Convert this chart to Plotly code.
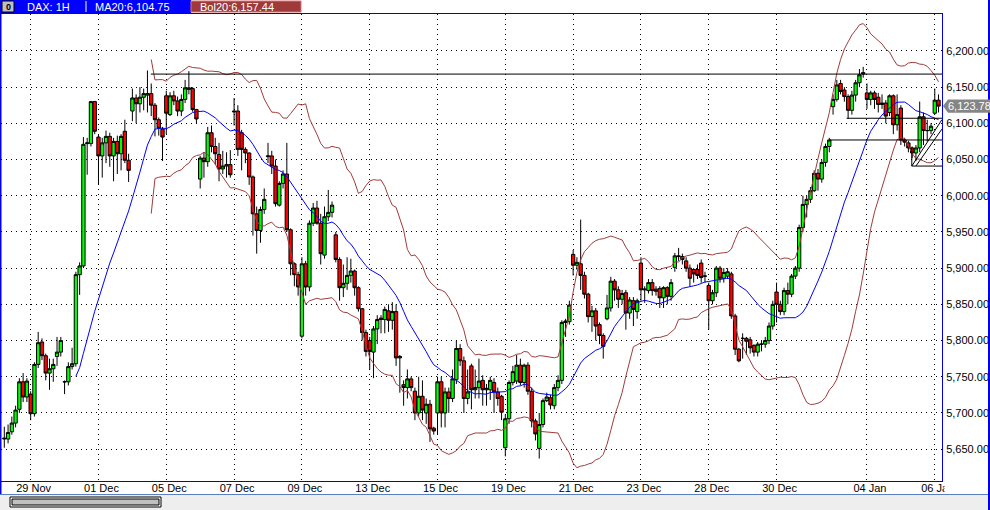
import numpy as np
import pandas as pd
import plotly.graph_objects as go

# ---------------- data (hourly DAX bars) ----------------
opens = [5664,5664,5674,5686,5705,5743,5722,5726,5699,5767,
         5798,5779,5755,5761,5778,5784,5743,5743,5764,5768,
         5891,5903,6072,6072,6130,6081,6055,6073,6082,6055,
         6075,6058,6089,6049,6117,6135,6127,6136,6139,6141,
         6125,6105,6092,6138,6112,6138,6131,6117,6133,6149,
         6148,6119,6023,6052,6047,6087,6068,6057,6037,6041,
         6043,6117,6117,6087,6064,6059,6026,5975,5952,5981,
         6054,6055,6041,5987,6017,6030,5953,5906,5891,5806,
         5906,5874,5962,5983,5962,5918,5971,5977,5946,5912,
         5873,5879,5890,5896,5873,5844,5811,5800,5784,5816,
         5831,5829,5841,5828,5840,5776,5739,5735,5747,5730,
         5700,5723,5700,5712,5679,5700,5743,5700,5729,5720,
         5746,5789,5772,5720,5765,5732,5735,5745,5732,5732,
         5742,5729,5723,5652,5692,5742,5744,5766,5742,5766,
         5730,5689,5651,5684,5717,5721,5710,5735,5745,5825,
         5826,5919,5904,5906,5890,5864,5833,5841,5822,5807,
         5830,5845,5882,5870,5857,5866,5838,5855,5840,5907,
         5870,5869,5880,5871,5872,5859,5873,5861,5901,5917,
         5916,5910,5900,5898,5898,5907,5889,5876,5855,5866,
         5900,5886,5889,5892,5834,5788,5803,5803,5801,5793,
         5784,5795,5795,5800,5820,5867,5850,5840,5869,5864,
         5889,5900,5956,5988,5995,6007,6031,6023,6046,6068,
         6123,6133,6155,6146,6137,6118,6139,6156,6168,6142,
         6133,6142,6136,6126,6128,6115,6138,6098,6121,6077,
         6073,6066,6059,6066,6109,6090,6090,6114,6132]
highs = [5681,5684,5695,5710,5748,5755,5748,5730,5770,5812,
         5803,5782,5775,5775,5805,5805,5745,5770,5790,5895,
         5908,6081,6080,6131,6131,6085,6080,6090,6087,6080,
         6083,6085,6105,6058,6148,6140,6150,6148,6173,6155,
         6128,6108,6095,6145,6143,6145,6137,6140,6160,6172,
         6150,6120,6055,6060,6095,6097,6080,6073,6062,6060,
         6063,6135,6125,6091,6067,6060,6028,5985,5985,6010,
         6073,6062,6050,6020,6035,6073,5955,5908,5895,5915,
         5910,5966,5990,5993,5975,5985,6008,5992,5950,5915,
         5905,5915,5913,5898,5875,5845,5815,5805,5820,5835,
         5835,5847,5850,5853,5850,5780,5745,5760,5750,5735,
         5750,5745,5720,5718,5681,5750,5750,5735,5735,5760,
         5800,5795,5778,5760,5768,5760,5775,5752,5740,5750,
         5748,5735,5725,5698,5745,5765,5780,5775,5768,5770,
         5735,5692,5700,5720,5728,5725,5740,5752,5828,5830,
         5855,5925,5915,5967,5895,5866,5848,5845,5825,5810,
         5863,5888,5885,5875,5870,5870,5860,5860,5858,5915,
         5875,5885,5885,5875,5875,5875,5875,5885,5921,5928,
         5920,5915,5905,5900,5905,5912,5895,5880,5870,5903,
         5903,5900,5900,5895,5837,5790,5810,5805,5805,5795,
         5798,5800,5805,5825,5855,5880,5855,5873,5880,5892,
         5903,5960,6000,6000,6012,6035,6037,6050,6072,6080,
         6140,6160,6160,6150,6140,6145,6160,6175,6178,6155,
         6145,6145,6142,6140,6132,6140,6140,6140,6125,6080,
         6076,6068,6070,6130,6115,6105,6100,6148,6140]
lows = [5652,5658,5670,5680,5700,5715,5715,5690,5695,5762,
        5773,5745,5732,5743,5765,5778,5726,5738,5760,5764,
        5863,5900,6029,6068,6085,6016,6025,6045,6040,6020,
        6030,6035,6045,6019,6103,6100,6115,6118,6115,6110,
        6082,6083,6048,6085,6110,6125,6110,6110,6128,6140,
        6116,6100,6010,6025,6040,6060,6043,6020,6030,6025,
        6025,6097,6055,6035,6045,6015,5945,5920,5935,5975,
        6045,6030,5985,5985,6010,5950,5890,5875,5862,5803,
        5862,5868,5958,5960,5905,5913,5965,5970,5908,5855,
        5860,5870,5880,5862,5840,5800,5778,5760,5748,5795,
        5810,5810,5812,5815,5765,5728,5710,5720,5730,5690,
        5695,5690,5685,5660,5670,5670,5680,5680,5700,5715,
        5740,5765,5700,5712,5705,5720,5720,5710,5710,5718,
        5700,5710,5690,5640,5685,5738,5740,5738,5735,5725,
        5680,5662,5637,5680,5715,5705,5705,5730,5740,5805,
        5822,5890,5898,5870,5858,5825,5812,5800,5795,5775,
        5828,5840,5855,5845,5850,5815,5830,5820,5830,5855,
        5852,5865,5862,5862,5845,5845,5850,5855,5895,5910,
        5905,5895,5875,5880,5885,5880,5880,5815,5850,5860,
        5880,5880,5885,5830,5780,5770,5775,5780,5782,5778,
        5778,5785,5790,5795,5815,5825,5835,5835,5850,5860,
        5885,5895,5950,5970,5990,6005,6007,6018,6040,6060,
        6112,6130,6140,6130,6106,6112,6130,6150,6163,6120,
        6125,6120,6115,6120,6100,6110,6085,6090,6070,6068,
        6060,6052,6048,6060,6070,6075,6085,6112,6115]
closes = [5665,5673,5686,5704,5743,5722,5744,5699,5767,5797,
          5779,5755,5761,5767,5784,5800,5743,5764,5768,5891,
          5903,6071,6073,6130,6089,6055,6073,6082,6055,6075,
          6058,6082,6049,6035,6135,6127,6136,6141,6141,6125,
          6105,6093,6081,6114,6138,6131,6117,6133,6149,6147,
          6119,6106,6052,6047,6087,6068,6058,6037,6041,6043,
          6029,6116,6064,6064,6059,6026,5975,5952,5981,5995,
          6055,6041,5989,6017,6030,5953,5906,5891,5874,5906,
          5874,5962,5983,5962,5920,5971,5977,5987,5912,5873,
          5879,5890,5896,5873,5844,5811,5785,5785,5816,5829,
          5829,5843,5828,5840,5776,5778,5735,5747,5735,5700,
          5723,5704,5712,5678,5675,5743,5700,5729,5720,5747,
          5789,5772,5720,5729,5732,5735,5744,5732,5734,5745,
          5729,5720,5701,5692,5742,5757,5766,5742,5766,5730,
          5689,5671,5684,5717,5722,5711,5735,5745,5825,5827,
          5849,5904,5908,5890,5864,5833,5841,5820,5807,5792,
          5845,5882,5870,5857,5865,5838,5856,5843,5855,5870,
          5871,5880,5869,5868,5859,5873,5861,5880,5917,5916,
          5912,5900,5886,5892,5890,5887,5889,5855,5866,5900,
          5886,5894,5895,5834,5788,5772,5803,5799,5790,5784,
          5795,5795,5800,5820,5850,5850,5840,5869,5864,5889,
          5900,5956,5988,5995,6007,6031,6023,6046,6068,6077,
          6133,6153,6144,6137,6118,6139,6156,6167,6170,6133,
          6142,6133,6126,6128,6110,6138,6098,6112,6077,6074,
          6066,6059,6066,6109,6090,6090,6096,6132,6123.78]

tick_bars = [7, 25, 43, 61, 79, 97, 115, 133, 151, 169, 187, 205, 229, 247]
tick_labels = ["29 Nov", "01 Dec", "05 Dec", "07 Dec", "09 Dec", "13 Dec", "15 Dec",
               "19 Dec", "21 Dec", "23 Dec", "28 Dec", "30 Dec", "04 Jan", "06 Jan"]
price_ticks = [5650, 5700, 5750, 5800, 5850, 5900, 5950, 6000, 6050, 6100, 6150, 6200]

# user-drawn lines: (start bar, price) extended to the right edge
hline_starts = [38.9, 223.6, 219.0, 240.9]
hline_prices = [6168, 6107, 6077, 6041]
tri_bars = [240.9, 248.9]
tri_prices = [6041, 6105]
tri2_bars = [242.0, 248.9]
tri2_prices = [6041, 6092]
tri_top = 6067

header_symbol = "DAX: 1H"
header_ma = "MA20:6,104.75"
header_bol = "Bol20:6,157.44"
last_price = closes[-1]

# ---------------- indicators ----------------
bars = list(range(len(closes)))
cs = pd.Series(closes, dtype=float)
ma = cs.rolling(20).mean()
sd = cs.rolling(20).std(ddof=0)
upper = ma + 2 * sd
lower = ma - 2 * sd
upper[:39] = np.nan
lower[:39] = np.nan

# ---------------- geometry ----------------
W, H = 990, 510
ML, MR, MT, MB = 1, 48, 14, 29
PW, PH = W - ML - MR, H - MT - MB
XR = [-0.876, 248.92]
YR = [5606, 6251]


def px(x):
    return (x - ML) / PW


def py(y):
    return 1 - (y - MT) / PH


BLUE = "#0000EE"
BROWN = "#A03C3C"

fig = go.Figure()
fig.add_trace(go.Candlestick(
    x=bars, open=opens, high=highs, low=lows, close=closes,
    increasing=dict(fillcolor="#00FF00", line=dict(color="black", width=1)),
    decreasing=dict(fillcolor="#FF0000", line=dict(color="black", width=1)),
    whiskerwidth=0, showlegend=False, hoverinfo="skip"))
fig.add_trace(go.Scatter(x=bars, y=upper, mode="lines", line=dict(color=BROWN, width=1),
                         showlegend=False, hoverinfo="skip"))
fig.add_trace(go.Scatter(x=bars, y=lower, mode="lines", line=dict(color=BROWN, width=1),
                         showlegend=False, hoverinfo="skip"))
fig.add_trace(go.Scatter(x=bars, y=ma, mode="lines", line=dict(color="#0000FF", width=1),
                         showlegend=False, hoverinfo="skip"))

shapes = []
# drawn trend lines
for xs, p in zip(hline_starts, hline_prices):
    shapes.append(dict(type="line", xref="x", yref="y", x0=xs, x1=XR[1], y0=p, y1=p,
                       line=dict(color="black", width=1), layer="above"))
shapes.append(dict(type="line", xref="x", yref="y", x0=tri_bars[0], x1=tri_bars[0],
                   y0=tri_prices[0], y1=tri_top, line=dict(color="black", width=1)))
shapes.append(dict(type="line", xref="x", yref="y", x0=tri_bars[0], x1=tri_bars[1],
                   y0=tri_prices[0], y1=tri_prices[1], line=dict(color="black", width=1)))
shapes.append(dict(type="line", xref="x", yref="y", x0=tri2_bars[0], x1=tri2_bars[1],
                   y0=tri2_prices[0], y1=tri2_prices[1], line=dict(color="black", width=1)))

# header bar
shapes.append(dict(type="rect", xref="paper", yref="paper", x0=px(0), x1=px(191), y0=py(0), y1=py(13),
                   fillcolor="#0000FF", line=dict(width=0), layer="above"))
shapes.append(dict(type="rect", xref="paper", yref="paper", x0=px(2), x1=px(14), y0=py(1), y1=py(12),
                   fillcolor="#C0C0C0", line=dict(color="black", width=1), layer="above"))
shapes.append(dict(type="line", xref="paper", yref="paper", x0=px(86), x1=px(86), y0=py(1), y1=py(12),
                   line=dict(color="white", width=1), layer="above"))
shapes.append(dict(type="rect", xref="paper", yref="paper", x0=px(191), x1=px(301), y0=py(1), y1=py(12),
                   fillcolor="#9E3A3A", line=dict(color="#E07070", width=1), layer="above"))

# mask for clipped last date label, frame lines, scroll bar
shapes.append(dict(type="rect", xref="paper", yref="paper", x0=px(944.5), x1=px(988), y0=py(482), y1=py(494),
                   fillcolor="white", line=dict(width=0), layer="above"))
shapes.append(dict(type="rect", xref="paper", yref="paper", x0=px(0), x1=px(990), y0=py(494), y1=py(510),
                   fillcolor="#EEEEEE", line=dict(width=0), layer="above"))
shapes.append(dict(type="line", xref="paper", yref="paper", x0=px(0), x1=px(990), y0=py(494.5), y1=py(494.5),
                   line=dict(color="#5A7EC0", width=1), layer="above"))
shapes.append(dict(type="rect", xref="paper", yref="paper", x0=px(10), x1=px(161), y0=py(497), y1=py(507),
                   fillcolor="white", line=dict(color="black", width=1), layer="above"))
shapes.append(dict(type="rect", xref="paper", yref="paper", x0=px(12), x1=px(159), y0=py(499), y1=py(505),
                   fillcolor="#C0C0C0", line=dict(color="black", width=1), layer="above"))
shapes.append(dict(type="line", xref="paper", yref="paper", x0=px(0.5), x1=px(0.5), y0=py(0), y1=py(494),
                   line=dict(color=BLUE, width=2), layer="above"))
shapes.append(dict(type="line", xref="paper", yref="paper", x0=px(989), x1=px(989), y0=py(0), y1=py(510),
                   line=dict(color=BLUE, width=2), layer="above"))

# last price tag
tag_h = 9.2
x_tip, x_l, x_r = px(943), px(948), px(990)
shapes.append(dict(type="path", xref="paper", yref="y",
                   path=f"M {x_tip} {last_price} L {x_l} {last_price + tag_h} L {x_r} {last_price + tag_h} "
                        f"L {x_r} {last_price - tag_h} L {x_l} {last_price - tag_h} Z",
                   fillcolor="#858585", line=dict(width=0), layer="above"))

font = "Liberation Sans, Arial, sans-serif"
annotations = [
    dict(xref="paper", yref="paper", x=px(25), y=py(7), text=header_symbol, showarrow=False,
         xanchor="left", yanchor="middle", font=dict(family=font, size=11, color="white")),
    dict(xref="paper", yref="paper", x=px(93), y=py(7), text=header_ma, showarrow=False,
         xanchor="left", yanchor="middle", font=dict(family=font, size=11, color="white")),
    dict(xref="paper", yref="paper", x=px(198), y=py(7), text=header_bol, showarrow=False,
         xanchor="left", yanchor="middle", font=dict(family=font, size=11, color="white")),
    dict(xref="paper", yref="paper", x=px(8), y=py(6.5), text="<b>0</b>", showarrow=False,
         xanchor="center", yanchor="middle", font=dict(family=font, size=9, color="black")),
    dict(xref="paper", yref="y", x=px(969), y=last_price, text=f"{last_price:,.2f}", showarrow=False,
         xanchor="center", yanchor="middle", font=dict(family=font, size=11, color="white")),
]

grid = dict(showgrid=True, gridcolor="black", gridwidth=1, griddash="1px,4px", zeroline=False,
            showline=True, linecolor=BLUE, linewidth=1, mirror=True, ticks="", automargin=False,
            tickfont=dict(family=font, size=11, color="black"))

fig.update_layout(
    width=W, height=H, autosize=False,
    margin=dict(l=ML, r=MR, t=MT, b=MB, pad=0),
    paper_bgcolor="white", plot_bgcolor="white",
    showlegend=False, shapes=shapes, annotations=annotations,
    boxgap=0.12, boxgroupgap=0,
    xaxis=dict(range=XR, tickmode="array", tickvals=tick_bars, ticktext=tick_labels,
               rangeslider=dict(visible=False), ticklabelshift=3, ticklabelstandoff=-3, **grid),
    yaxis=dict(range=YR, side="right", tickmode="array", tickvals=price_ticks,
               tickformat=",.2f", ticklabelstandoff=1, **grid),
)

fig.write_html("out.html", config={"displayModeBar": False},
               post_script="document.body.style.margin='0';document.body.style.overflow='hidden';")
